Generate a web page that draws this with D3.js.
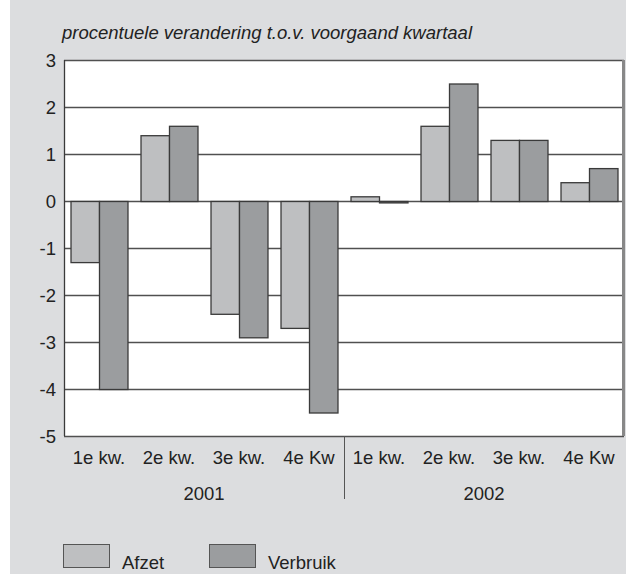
<!DOCTYPE html>
<html>
<head>
<meta charset="utf-8">
<script src="https://cdn.jsdelivr.net/npm/d3@7"></script>
<style>
  body { margin: 0; background: #fff; }
  text { font-family: "Liberation Sans", Arial, sans-serif; fill: #222; }
</style>
</head>
<body>
<div id="chart"></div>
<script>
var quarters = ['1e kw.', '2e kw.', '3e kw.', '4e Kw', '1e kw.', '2e kw.', '3e kw.', '4e Kw'];
var years = ['2001', '2002'];
var series = ['Afzet', 'Verbruik'];
var afzet = [-1.3, 1.4, -2.4, -2.7, 0.1, 1.6, 1.3, 0.4];
var verbruik = [-4.0, 1.6, -2.9, -4.5, -0.03, 2.5, 1.3, 0.7];
var yTicks = [-5, -4, -3, -2, -1, 0, 1, 2, 3];

var width = 626, height = 574;
var colors = { 'Afzet': '#bebfc1', 'Verbruik': '#9b9d9f' };
var strokeCol = '#3a3a3a';
var gridCol = '#505050';
var fs = '18.5px';

var svg = d3.select('#chart').append('svg')
    .attr('width', width)
    .attr('height', height);

svg.append('rect')
    .attr('x', 10).attr('y', 0)
    .attr('width', width - 10).attr('height', height)
    .attr('fill', '#dcdddf');

svg.append('text')
    .attr('x', 62).attr('y', 32)
    .attr('dominant-baseline', 'central')
    .style('font-size', '18.5px')
    .style('font-style', 'italic')
    .text('procentuele verandering t.o.v. voorgaand kwartaal');

var x = d3.scaleBand()
    .domain(d3.range(quarters.length))
    .range([64, 624])
    .paddingInner(0.186)
    .paddingOuter(0.093);

var xs = d3.scaleBand()
    .domain(series)
    .range([0, x.bandwidth()]);

var y = d3.scaleLinear()
    .domain([-5, 3])
    .range([436, 60]);

// plot area
svg.append('rect')
    .attr('x', 64).attr('y', y(3))
    .attr('width', 560).attr('height', y(-5) - y(3))
    .attr('fill', '#fff');

svg.selectAll('.grid')
    .data(yTicks)
    .enter().append('line')
    .attr('x1', 64).attr('x2', 624)
    .attr('y1', d => Math.round(y(d)) + 0.5)
    .attr('y2', d => Math.round(y(d)) + 0.5)
    .attr('stroke', gridCol)
    .attr('stroke-width', 1.3);

svg.append('line')
    .attr('x1', 64.5).attr('x2', 64.5)
    .attr('y1', y(3)).attr('y2', y(-5))
    .attr('stroke', strokeCol)
    .attr('stroke-width', 1.3);

svg.append('line')
    .attr('x1', 623.5).attr('x2', 623.5)
    .attr('y1', y(3)).attr('y2', y(-5))
    .attr('stroke', '#888')
    .attr('stroke-width', 3);

svg.selectAll('.ylab')
    .data(yTicks)
    .enter().append('text')
    .attr('x', 56)
    .attr('y', d => y(d))
    .attr('text-anchor', 'end')
    .attr('dominant-baseline', 'central')
    .style('font-size', fs)
    .text(d => d);

var rows = quarters.map((q, i) => ({ i: i, Afzet: afzet[i], Verbruik: verbruik[i] }));

var groups = svg.selectAll('.grp')
    .data(rows)
    .enter().append('g')
    .attr('transform', d => `translate(${x(d.i)},0)`);

groups.selectAll('rect')
    .data(d => series.map(s => ({ s: s, v: d[s] })))
    .enter().append('rect')
    .attr('x', d => xs(d.s) + 0.5)
    .attr('y', d => Math.min(y(d.v), y(0)) + 0.5)
    .attr('width', xs.bandwidth())
    .attr('height', d => Math.max(Math.abs(y(d.v) - y(0)), 1))
    .attr('fill', d => colors[d.s])
    .attr('stroke', strokeCol)
    .attr('stroke-width', 1.3);

svg.selectAll('.qlab')
    .data(quarters)
    .enter().append('text')
    .attr('x', (d, i) => x(i) + x.bandwidth() / 2)
    .attr('y', 457)
    .attr('text-anchor', 'middle')
    .attr('dominant-baseline', 'central')
    .style('font-size', fs)
    .text(d => d);

svg.selectAll('.year')
    .data(years)
    .enter().append('text')
    .attr('x', (d, i) => 64 + 140 + i * 280)
    .attr('y', 493)
    .attr('text-anchor', 'middle')
    .attr('dominant-baseline', 'central')
    .style('font-size', fs)
    .text(d => d);

svg.append('line')
    .attr('x1', 344.5).attr('x2', 344.5)
    .attr('y1', y(-5)).attr('y2', 499)
    .attr('stroke', '#555');

// legend
var legX = [63, 209];
var leg = svg.selectAll('.leg')
    .data(series)
    .enter().append('g')
    .attr('transform', (d, i) => `translate(${legX[i]},544)`);

leg.append('rect')
    .attr('x', 0.5).attr('y', 0.5)
    .attr('width', 46).attr('height', 23)
    .attr('fill', d => colors[d])
    .attr('stroke', '#555');

leg.append('text')
    .attr('x', 59)
    .attr('y', 18)
    .attr('dominant-baseline', 'central')
    .style('font-size', fs)
    .text(d => d);
</script>
</body>
</html>
